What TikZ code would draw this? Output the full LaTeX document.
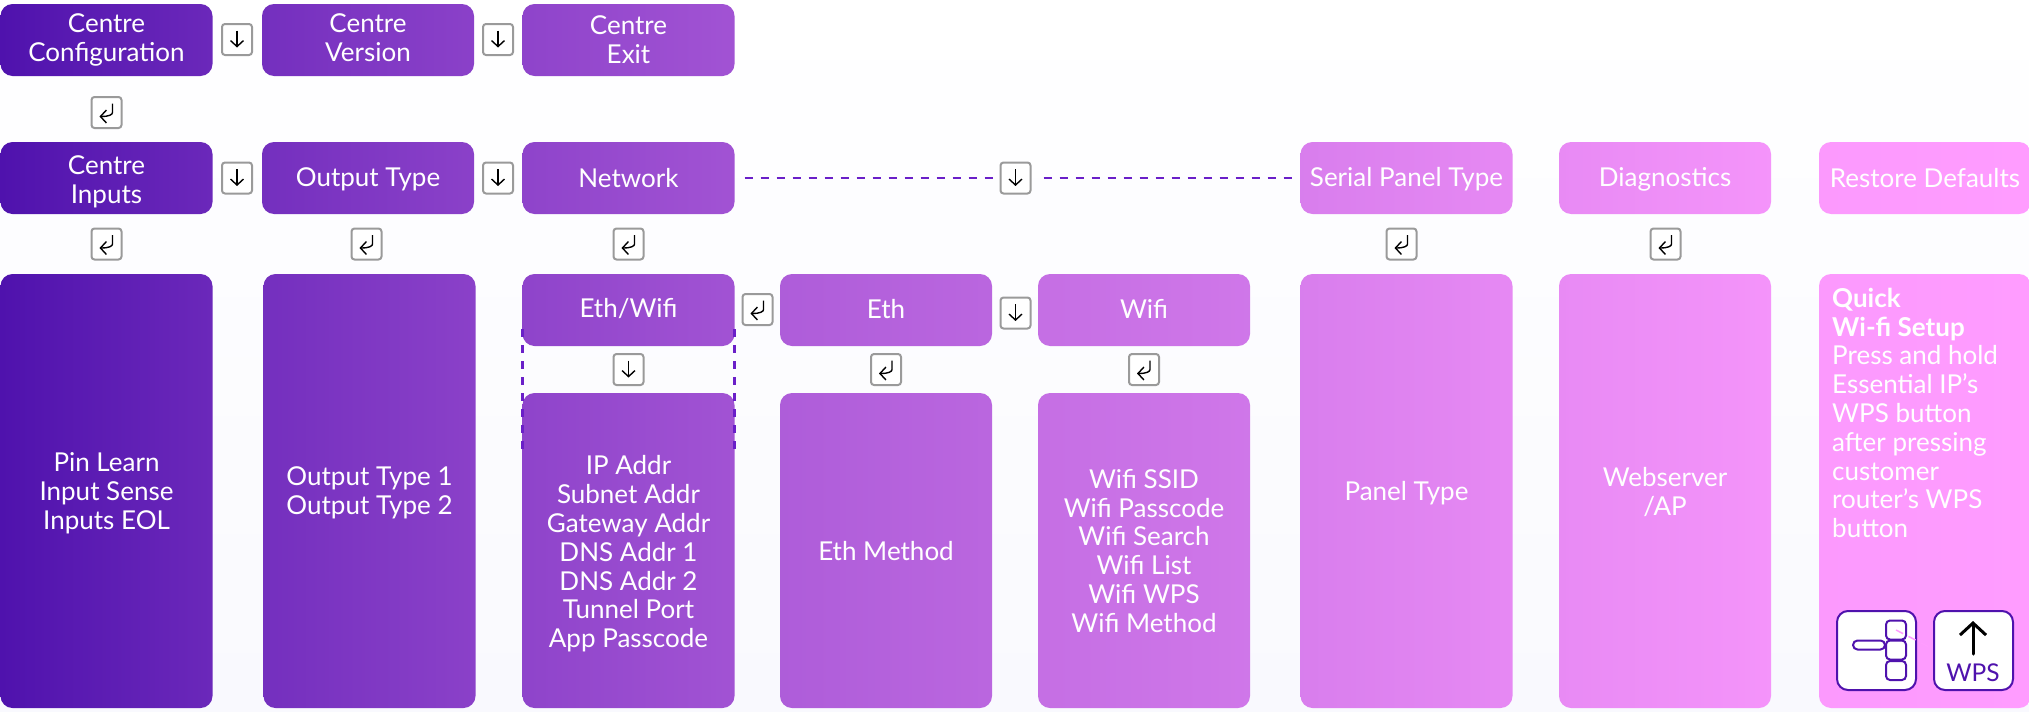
\documentclass[tikz,border=0pt]{standalone}
\usepackage{fontspec}
\setmainfont{Lato}
\usepackage{tikz}
\usetikzlibrary{arrows.meta}
\definecolor{brandpurple}{HTML}{4F12AD}
\definecolor{brandpink}{HTML}{FF9CFF}
\definecolor{keygray}{HTML}{9A9A9A}
\definecolor{dashpurple}{HTML}{6A1FC8}
\definecolor{bgtint}{HTML}{F9F9FE}
\setlength{\tabcolsep}{0pt}
\newcommand{\nudged}[2]{\raisebox{-#1pt}[\height][\depth]{#2}}
\tikzset{shadeblock/.style 2 args={left color=brandpink!#1!brandpurple,right color=brandpink!#2!brandpurple}}
\tikzstyle{block}=[rounded corners=12pt,minimum width=212pt,inner sep=0pt,text=white,font=\fontsize{26}{28.8}\selectfont]
\tikzstyle{small}=[block,minimum height=72pt]
\tikzstyle{colA}=[shadeblock={0}{16}]
\tikzstyle{colB}=[shadeblock={21}{34}]
\tikzstyle{colC}=[shadeblock={36}{47}]
\tikzstyle{colD}=[shadeblock={54}{61}]
\tikzstyle{colE}=[shadeblock={67}{73}]
\tikzstyle{colF}=[shadeblock={78}{86}]
\tikzstyle{colG}=[shadeblock={87}{94}]
\tikzstyle{colH}=[shadeblock={98}{100}]
\tikzstyle{key}=[rounded corners=3pt,draw=keygray,line width=2pt,fill=white,minimum width=30pt,minimum height=31pt,inner sep=0pt]
\tikzstyle{keyarrow}=[black,line width=1.4pt,-{Straight Barb[length=6pt,width=13pt,line width=1.4pt]}]
\tikzstyle{downkey}=[key,path picture={\draw[keyarrow,shift={(path picture bounding box.center)}] (0,-9) -- (0,8);}]
\tikzstyle{enterkey}=[key,path picture={\draw[keyarrow,shift={(path picture bounding box.center)}] (6,-9) -- (6,-3) .. controls (6,2) and (3,4) .. (-7,4);}]
\tikzstyle{dashline}=[dashpurple,line width=2.5pt,dash pattern=on 8pt off 8pt]
\tikzstyle{icon}=[rounded corners=11pt,draw=brandpurple,line width=2pt,fill=white,minimum size=79pt,inner sep=0pt]
\tikzstyle{button}=[rounded corners=4pt,draw=brandpurple,line width=2pt,fill=white,inner sep=0pt]

\begin{document}
\begin{tikzpicture}[x=1pt,y=-1pt]
    \useasboundingbox (0,0) rectangle (2029,712);
    \shade[top color=white,bottom color=bgtint] (0,0) rectangle (2029,712);

    \node[small,colA] (centreconfig) at (106.5,40) {\nudged{1}{\begin{tabular}{c}Centre\\Configuration\end{tabular}}};
    \node[small,colB] (centreversion) at (368,40) {\nudged{1}{\begin{tabular}{c}Centre\\Version\end{tabular}}};
    \node[small,colC] (centreexit) at (628.5,40) {\nudged{3}{\begin{tabular}{c}Centre\\Exit\end{tabular}}};

    \node[small,colA] (centreinputs) at (106.5,178) {\nudged{5}{\begin{tabular}{c}Centre\\Inputs\end{tabular}}};
    \node[small,colB] (outputtype) at (368,178) {\nudged{1}{Output Type}};
    \node[small,colC] (network) at (628.5,178) {Network};
    \node[small,colF] (serialpanel) at (1406.5,178) {\nudged{1}{Serial Panel Type}};
    \node[small,colG] (diagnostics) at (1665,178) {\nudged{1}{Diagnostics}};
    \node[small,colH] (restore) at (1925,178) {Restore Defaults};

    \node[block,colA,minimum height=434pt] (inputlist) at (106.5,491) {\nudged{4}{\begin{tabular}{c}Pin Learn\\Input Sense\\Inputs EOL\end{tabular}}};
    \node[block,colB,minimum height=434pt] (outputlist) at (369.5,491) {\nudged{3}{\begin{tabular}{c}Output Type 1\\Output Type 2\end{tabular}}};
    \node[small,colC] (ethwifi) at (628.5,310) {\nudged{-1}{Eth/Wifi}};
    \node[small,colD] (eth) at (886,310) {\nudged{-1}{Eth}};
    \node[small,colE] (wifi) at (1144,310) {\nudged{-1}{Wifi}};
    \node[block,colC,minimum height=315pt] (networklist) at (628.5,550.5) {\nudged{5}{\begin{tabular}{c}IP Addr\\Subnet Addr\\Gateway Addr\\DNS Addr 1\\DNS Addr 2\\Tunnel Port\\App Passcode\end{tabular}}};
    \node[block,colD,minimum height=315pt] (ethlist) at (886,550.5) {\nudged{1}{Eth Method}};
    \node[block,colE,minimum height=315pt] (wifilist) at (1144,550.5) {\nudged{4}{\begin{tabular}{c}Wifi SSID\\Wifi Passcode\\Wifi Search\\Wifi List\\Wifi WPS\\Wifi Method\end{tabular}}};
    \node[block,colF,minimum height=434pt] (panellist) at (1406.5,491) {\nudged{2}{Panel Type}};
    \node[block,colG,minimum height=434pt] (webserver) at (1665,491) {\nudged{4}{\begin{tabular}{c}Webserver\\/AP\end{tabular}}};
    \node[block,colH,minimum height=434pt] (quickwifi) at (1925,491) {};
    \node[inner sep=0pt,anchor=north west,text=white,font=\fontsize{26}{28.8}\selectfont] (quicktext) at (1832,287) {\begin{tabular}{l}\textbf{Quick}\\\textbf{Wi-fi Setup}\\Press and hold\\Essential IP’s\\WPS button\\after pressing\\customer\\router’s WPS\\button\end{tabular}};

    \node[downkey] (keyA) at (237,39.5) {};
    \node[downkey] (keyB) at (498,39.5) {};
    \node[enterkey] (keyC) at (106.5,112.5) {};
    \node[downkey] (keyD) at (237,178) {};
    \node[downkey] (keyE) at (498,178) {};
    \node[downkey] (keyF) at (1015.5,178) {};
    \node[enterkey] (keyG) at (106.5,244) {};
    \node[enterkey] (keyH) at (366.5,244) {};
    \node[enterkey] (keyI) at (628.5,244) {};
    \node[enterkey] (keyJ) at (1401.5,244) {};
    \node[enterkey] (keyK) at (1665.5,244) {};
    \node[enterkey] (keyL) at (757.5,309.5) {};
    \node[downkey] (keyM) at (1015.5,313) {};
    \node[downkey] (keyN) at (628.5,369.5) {};
    \node[enterkey] (keyO) at (886,369.5) {};
    \node[enterkey] (keyP) at (1144,369.5) {};

    \draw[dashline,shorten <=10pt,shorten >=6pt] (network) -- (keyF) ;
    \draw[dashline,shorten <=12pt,shorten >=6pt] (keyF) -- (serialpanel) ;
    \coordinate (dashAtop) at (522.5,329);
    \coordinate (dashAbot) at (522.5,449);
    \coordinate (dashBtop) at (734.5,329);
    \coordinate (dashBbot) at (734.5,449);
    \draw[dashline] (dashAtop) -- (dashAbot) ;
    \draw[dashline] (dashBtop) -- (dashBbot) ;

    % icons
    \node[icon] (routericon) at (1876.5,650.5) {};
    \node[button,minimum width=20pt,minimum height=19pt] (buttonA) at (1896,630) {};
    \node[button,minimum width=20pt,minimum height=19pt] (buttonB) at (1896,650) {};
    \node[button,minimum width=20pt,minimum height=19pt] (buttonC) at (1896,670.5) {};
    \node[button,rounded corners=4.5pt,minimum width=32pt,minimum height=9pt] (buttonbar) at (1869,645) {};
    \node[icon] (wpsicon) at (1973.5,650.5) {};
    \node[inner sep=0pt,text=brandpurple,font=\fontsize{24.5}{26}\selectfont] (wpstext) at (1973,673) {WPS};
    \coordinate (wpstail) at (1973,654);
    \coordinate (wpstip) at (1973,621);
    \draw[black,line width=3pt,line cap=round,-{Straight Barb[length=12pt,width=26pt,line width=3pt]}] (wpstail) -- (wpstip) ;
    \draw[brandpink,line width=1.5pt,dash pattern=on 8pt off 6pt] (buttonA.center) -- (wpsicon.west |- 0,649) ;
\end{tikzpicture}
\end{document}
